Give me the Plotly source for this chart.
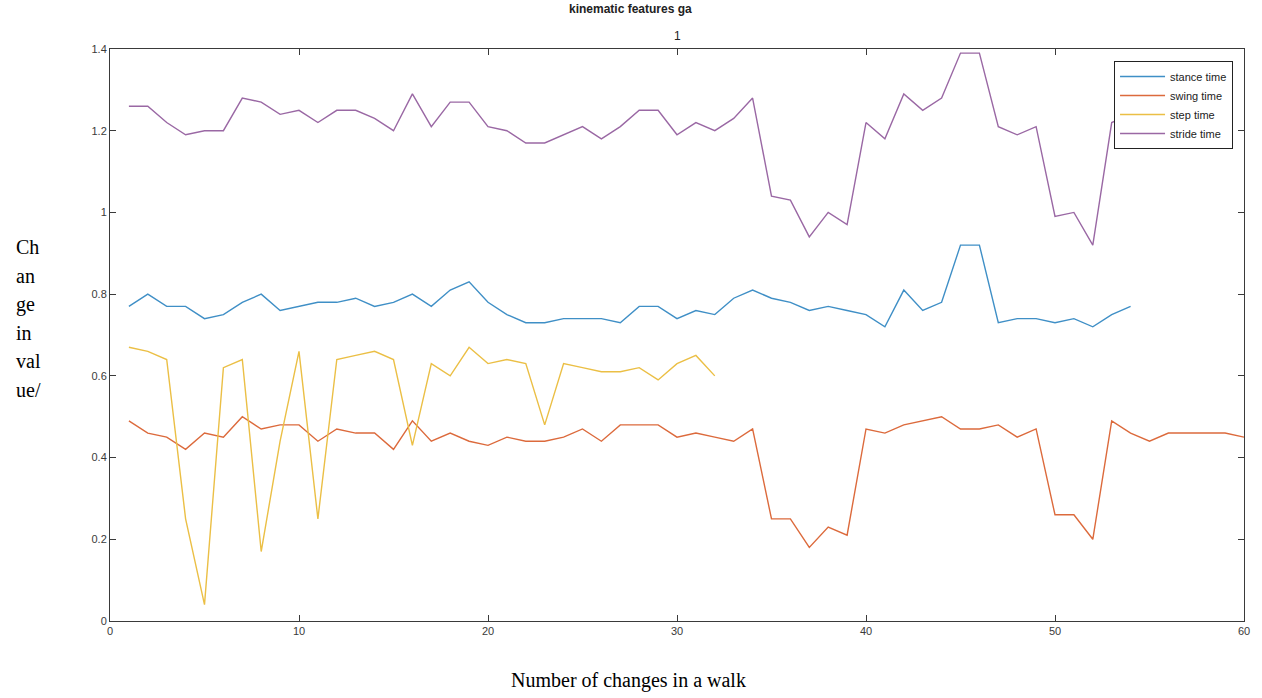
import plotly.graph_objects as go

stance_x = list(range(1, 55))
stance = [0.77, 0.80, 0.77, 0.77, 0.74, 0.75, 0.78, 0.80, 0.76, 0.77,
          0.78, 0.78, 0.79, 0.77, 0.78, 0.80, 0.77, 0.81, 0.83, 0.78,
          0.75, 0.73, 0.73, 0.74, 0.74, 0.74, 0.73, 0.77, 0.77, 0.74,
          0.76, 0.75, 0.79, 0.81, 0.79, 0.78, 0.76, 0.77, 0.76, 0.75,
          0.72, 0.81, 0.76, 0.78, 0.92, 0.92, 0.73, 0.74, 0.74, 0.73,
          0.74, 0.72, 0.75, 0.77]

swing_x = list(range(1, 61))
swing = [0.49, 0.46, 0.45, 0.42, 0.46, 0.45, 0.50, 0.47, 0.48, 0.48,
         0.44, 0.47, 0.46, 0.46, 0.42, 0.49, 0.44, 0.46, 0.44, 0.43,
         0.45, 0.44, 0.44, 0.45, 0.47, 0.44, 0.48, 0.48, 0.48, 0.45,
         0.46, 0.45, 0.44, 0.47, 0.25, 0.25, 0.18, 0.23, 0.21, 0.47,
         0.46, 0.48, 0.49, 0.50, 0.47, 0.47, 0.48, 0.45, 0.47, 0.26,
         0.26, 0.20, 0.49, 0.46, 0.44, 0.46, 0.46, 0.46, 0.46, 0.45]

step_x = list(range(1, 33))
step = [0.67, 0.66, 0.64, 0.25, 0.04, 0.62, 0.64, 0.17, 0.44, 0.66,
        0.25, 0.64, 0.65, 0.66, 0.64, 0.43, 0.63, 0.60, 0.67, 0.63,
        0.64, 0.63, 0.48, 0.63, 0.62, 0.61, 0.61, 0.62, 0.59, 0.63,
        0.65, 0.60]

stride_x = list(range(1, 55))
stride = [1.26, 1.26, 1.22, 1.19, 1.20, 1.20, 1.28, 1.27, 1.24, 1.25,
          1.22, 1.25, 1.25, 1.23, 1.20, 1.29, 1.21, 1.27, 1.27, 1.21,
          1.20, 1.17, 1.17, 1.19, 1.21, 1.18, 1.21, 1.25, 1.25, 1.19,
          1.22, 1.20, 1.23, 1.28, 1.04, 1.03, 0.94, 1.00, 0.97, 1.22,
          1.18, 1.29, 1.25, 1.28, 1.39, 1.39, 1.21, 1.19, 1.21, 0.99,
          1.00, 0.92, 1.22, 1.24]

ylabel_lines = ["Ch", "an", "ge", "in", "val", "ue/"]

series = [
    ("stance time", stance_x, stance, "#3f8fc6"),
    ("swing time", swing_x, swing, "#dc6a3c"),
    ("step time", step_x, step, "#ebbf45"),
    ("stride time", stride_x, stride, "#9a68a4"),
]

fig = go.Figure()
for name, xs, ys, col in series:
    fig.add_trace(go.Scatter(x=xs, y=ys, mode="lines", name=name,
                             line=dict(color=col, width=1.4)))

axis_common = dict(showline=True, linecolor="#3a3a3a", linewidth=1, mirror="ticks",
                   ticks="inside", ticklen=6, tickcolor="#3a3a3a", showgrid=False,
                   zeroline=False, tickfont=dict(family="Liberation Sans, Arial", size=11, color="#3a3a3a"))

fig.update_xaxes(range=[0, 60], tickvals=[0, 10, 20, 30, 40, 50, 60], **axis_common)
fig.update_yaxes(range=[0, 1.4], tickvals=[0, 0.2, 0.4, 0.6, 0.8, 1.0, 1.2, 1.4],
                 ticktext=["0", "0.2", "0.4", "0.6", "0.8", "1", "1.2", "1.4"], **axis_common)

annotations = [
    dict(text="<b>kinematic features ga</b>", xref="paper", yref="paper",
         x=(632 - 110) / 1138, y=(621 - 9) / 572, xanchor="center", yanchor="middle",
         showarrow=False, font=dict(family="Liberation Sans, Arial", size=12, color="#222")),
    dict(text="1", xref="paper", yref="paper",
         x=(679 - 110) / 1138, y=(621 - 36) / 572, xanchor="center", yanchor="middle",
         showarrow=False, font=dict(family="Liberation Sans, Arial", size=12, color="#222")),
    dict(text="Number of changes in a walk", xref="paper", yref="paper",
         x=(630 - 110) / 1138, y=(621 - 680) / 572, xanchor="center", yanchor="middle",
         showarrow=False, font=dict(family="Liberation Serif, Times New Roman", size=20, color="#000")),
]
for i, t in enumerate(ylabel_lines):
    ypix = 247 + i * 28.6
    annotations.append(dict(text=t, xref="paper", yref="paper",
                            x=(14 - 110) / 1138, y=(621 - ypix) / 572,
                            xanchor="left", yanchor="middle", showarrow=False,
                            font=dict(family="Liberation Serif, Times New Roman", size=20, color="#000")))

fig.update_layout(
    width=1262, height=698,
    margin=dict(l=110, r=14, t=49, b=77),
    paper_bgcolor="white", plot_bgcolor="white",
    showlegend=True,
    legend=dict(x=(1237 - 110) / 1138, y=(621 - 61) / 572, xanchor="right", yanchor="top",
                bordercolor="#222", borderwidth=1, bgcolor="white",
                font=dict(family="Liberation Sans, Arial", size=11, color="#222"),
                tracegroupgap=0, itemwidth=45),
    annotations=annotations,
)

fig.write_html("out.html")
